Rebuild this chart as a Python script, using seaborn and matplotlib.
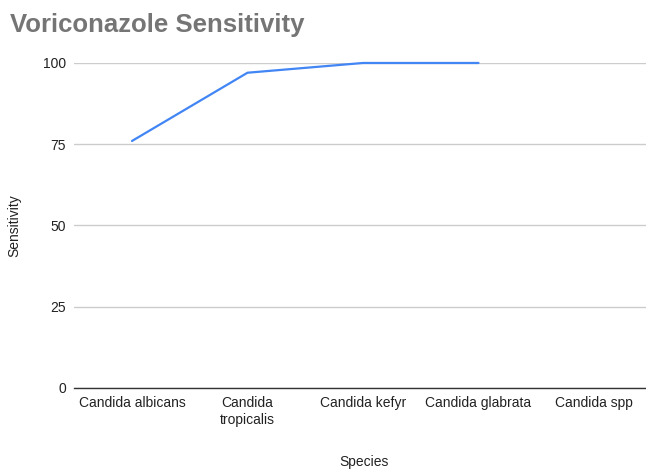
import numpy as np
import pandas as pd
import matplotlib.pyplot as plt
import seaborn as sns

#chart data
species = ['Candida albicans', 'Candida tropicalis', 'Candida kefyr', 'Candida glabrata', 'Candida spp']
tick_labels = ['Candida albicans', 'Candida\ntropicalis', 'Candida kefyr', 'Candida glabrata', 'Candida spp']
sensitivity = [76, 97, 100, 100, np.nan]
y_ticks = [0, 25, 50, 75, 100]

df = pd.DataFrame({'Species': species, 'Sensitivity': sensitivity})

sns.set_style('white')
plt.rcParams['font.family'] = ['Liberation Sans', 'DejaVu Sans']

fig = plt.figure(figsize=(6.46, 4.70), dpi=100)
ax = fig.add_axes([0.1149, 0.1745, 0.894, 0.6915])

sns.lineplot(data=df, x='Species', y='Sensitivity', color='#4285f4', linewidth=1.6,
             sort=False, ax=ax, clip_on=False)

#axes styling
ax.set_xlim(-0.5, 4.5)
ax.set_ylim(0, 100)
ax.set_xticks(range(len(tick_labels)))
ax.set_xticklabels(tick_labels, fontsize=10, color='#222222')
ax.set_yticks(y_ticks)
ax.set_yticklabels([str(v) for v in y_ticks], fontsize=10, color='#222222')
ax.tick_params(length=0, pad=6)
ax.grid(axis='y', color='#cccccc', linewidth=1)
ax.set_axisbelow(True)
for s in ['top', 'right', 'left']:
    ax.spines[s].set_visible(False)
ax.spines['bottom'].set_color('#333333')
ax.spines['bottom'].set_linewidth(1)
ax.spines['bottom'].set_zorder(3)

ax.set_xlabel('Species', fontsize=10, color='#222222')
ax.set_ylabel('Sensitivity', fontsize=10, color='#222222')
ax.xaxis.set_label_coords(0.5014, -0.228)
ax.yaxis.set_label_coords(-0.103, 0.5)
ax.xaxis.label.set_va('center')
ax.yaxis.label.set_va('center')

fig.text(0.0155, 0.946, 'Voriconazole Sensitivity', fontsize=18.5, fontweight='bold',
         color='#757575', va='center', ha='left')

fig.savefig('out.png', dpi=100)
